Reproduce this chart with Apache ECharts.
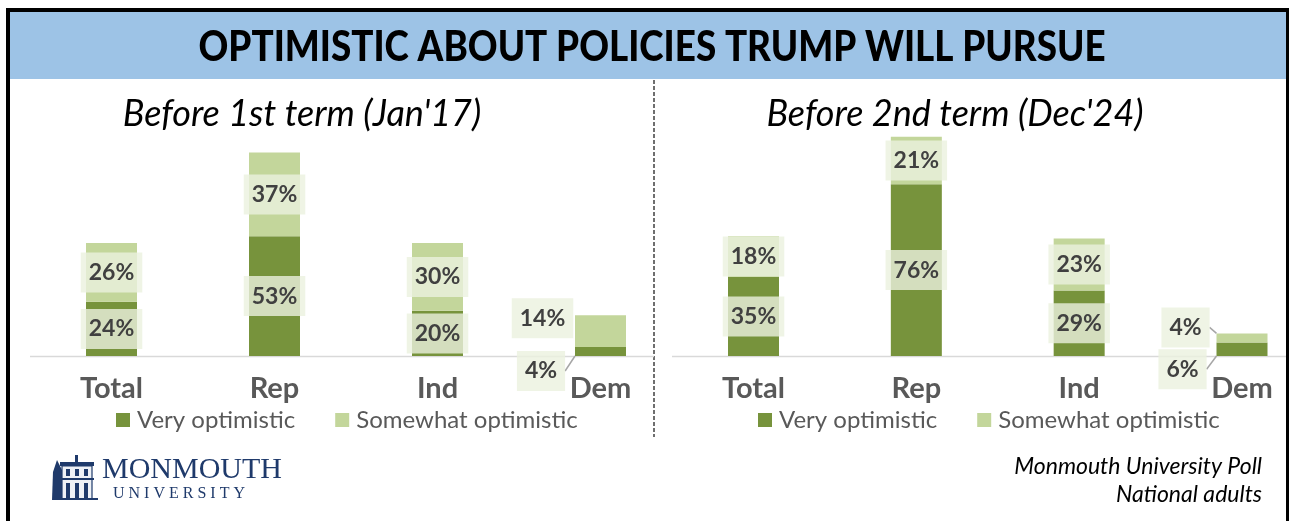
<!DOCTYPE html>
<html>
<head>
<meta charset="utf-8">
<script src="https://cdn.jsdelivr.net/npm/echarts@6/dist/echarts.min.js"></script>
<style>
html,body{margin:0;padding:0;background:#fff;}
#main{width:1289px;height:521px;}
</style>
</head>
<body>
<div id="main"></div>
<script>
// ---- data ----
const categories = ['Total', 'Rep', 'Ind', 'Dem'];
const seriesNames = ['Very optimistic', 'Somewhat optimistic'];
const veryJan17 = [24, 53, 20, 4];
const somewhatJan17 = [26, 37, 30, 14];
const veryDec24 = [35, 76, 29, 6];
const somewhatDec24 = [18, 21, 23, 4];
const subtitles = ["Before 1st term (Jan'17)", "Before 2nd term (Dec'24)"];
const titleText = 'OPTIMISTIC ABOUT POLICIES TRUMP WILL PURSUE';
const sourceLines = ['Monmouth University Poll', 'National adults'];
const logoLines = ['MONMOUTH', 'U N I V E R S I T Y'];

// ---- styles ----
const DARK = '#77933C', LIGHT = '#C3D69B';
const FONT = 'Lato';
const chart = echarts.init(document.getElementById('main'), null, {renderer: 'canvas'});

const cv = document.createElement('canvas').getContext('2d');
cv.font = '900 42px ' + FONT;
const titleScale = 907 / cv.measureText(titleText).width;

// label moves for the small "Dem" bar: [dx, dy, showLine]
const demMoves = [
  {very: [-59.5, 19.5, true], some: [-58, -13, false]},
  {very: [-59.5, 20, true], some: [-56.5, -10.5, true]}
];

function labelCfg() {
  return {
    show: true, position: 'inside', formatter: '{c}%',
    fontFamily: FONT, fontWeight: 'bold', fontSize: 23, color: '#404040',
    backgroundColor: 'rgba(235,241,222,0.8)', padding: [9, 8, 8, 8]
  };
}
function makeData(vals, move) {
  return vals.map((v, i) => {
    if (i === 3) return {value: v, labelLine: {show: move[2], lineStyle: {color: '#A6A6A6', width: 1.5}}};
    return v;
  });
}
function makeSeries(name, vals, gi, color, move, stack) {
  return {
    type: 'bar', name: name, stack: stack, xAxisIndex: gi, yAxisIndex: gi,
    barWidth: 51, clip: false, itemStyle: {color: color}, data: makeData(vals, move),
    label: labelCfg(),
    labelLine: {show: false},
    labelLayout: function (p) {
      if (p.dataIndex === 3) return {dx: move[0], dy: move[1]};
      return {};
    },
    emphasis: {disabled: true}, animation: false
  };
}

// grids span from first to last category centre (boundaryGap: false)
const grids = [
  {left: 111.5, width: 489, top: 130, height: 226},
  {left: 753.5, width: 488.5, top: 130, height: 226}
];

function xAxisCfg(gi) {
  return {
    type: 'category', gridIndex: gi, data: categories, boundaryGap: false,
    axisLine: {show: false}, axisTick: {show: false}, splitLine: {show: false},
    axisLabel: {margin: 18, interval: 0, fontFamily: FONT, fontWeight: 'bold', fontSize: 29, color: '#595959'}
  };
}
function yAxisCfg(gi) {
  return {type: 'value', gridIndex: gi, min: 0, max: 100, show: false, splitLine: {show: false}};
}
function legendCfg(left) {
  return {
    left: left, top: 408, padding: 0, itemWidth: 14, itemHeight: 14, itemGap: 40, icon: 'rect',
    data: seriesNames, selectedMode: false,
    textStyle: {fontFamily: FONT, fontSize: 24, color: '#595959', padding: [0, 0, 0, 2]}
  };
}

// logo building pieces
const navy = '#1F3A6B';
const building = [
  {type: 'polygon', shape: {points: [[57, 460], [53, 472], [52, 500], [64, 500], [63, 472]]}, style: {fill: navy}},
  {type: 'rect', shape: {x: 62, y: 466, width: 30, height: 33}, style: {fill: '#EEF1F6', stroke: navy, lineWidth: 1.2}},
  {type: 'rect', shape: {x: 60, y: 462, width: 34, height: 4}, style: {fill: navy}},
  {type: 'rect', shape: {x: 75, y: 455, width: 3, height: 7}, style: {fill: navy}},
  {type: 'rect', shape: {x: 60, y: 478, width: 34, height: 2}, style: {fill: navy}},
  {type: 'rect', shape: {x: 66, y: 469, width: 4, height: 7}, style: {fill: navy}},
  {type: 'rect', shape: {x: 75, y: 469, width: 4, height: 7}, style: {fill: navy}},
  {type: 'rect', shape: {x: 84, y: 469, width: 4, height: 7}, style: {fill: navy}},
  {type: 'rect', shape: {x: 66, y: 483, width: 4, height: 15}, style: {fill: navy}},
  {type: 'rect', shape: {x: 75, y: 483, width: 4, height: 15}, style: {fill: navy}},
  {type: 'rect', shape: {x: 84, y: 483, width: 4, height: 15}, style: {fill: navy}},
  {type: 'rect', shape: {x: 56, y: 498, width: 42, height: 2}, style: {fill: navy}}
];

const option = {
  backgroundColor: '#ffffff',
  animation: false,
  grid: grids,
  xAxis: [xAxisCfg(0), xAxisCfg(1)],
  yAxis: [yAxisCfg(0), yAxisCfg(1)],
  legend: [legendCfg(116), legendCfg(758)],
  series: [
    makeSeries(seriesNames[0], veryJan17, 0, DARK, demMoves[0].very, 'a'),
    makeSeries(seriesNames[1], somewhatJan17, 0, LIGHT, demMoves[0].some, 'a'),
    makeSeries(seriesNames[0], veryDec24, 1, DARK, demMoves[1].very, 'b'),
    makeSeries(seriesNames[1], somewhatDec24, 1, LIGHT, demMoves[1].some, 'b')
  ],
  graphic: [
    // frame & title band
    {type: 'rect', z: -10, shape: {x: 10, y: 12, width: 1277, height: 67}, style: {fill: '#9DC3E6'}},
    {type: 'rect', shape: {x: 6, y: 8, width: 1283, height: 4}, style: {fill: '#000'}},
    {type: 'rect', shape: {x: 6, y: 8, width: 4, height: 513}, style: {fill: '#000'}},
    {type: 'rect', shape: {x: 1286, y: 8, width: 3, height: 513}, style: {fill: '#000'}},
    {type: 'text', x: 652, y: 47, scaleX: titleScale,
      style: {text: titleText, x: 0, y: 0, align: 'center', verticalAlign: 'middle', textAlign: 'center', textVerticalAlign: 'middle',
        font: '900 42px ' + FONT, fill: '#000'}},
    // divider
    {type: 'line', shape: {x1: 654, y1: 80, x2: 654, y2: 437}, style: {stroke: '#404040', lineWidth: 1.5, lineDash: [4, 2]}},
    // baselines
    {type: 'line', shape: {x1: 30, y1: 356.5, x2: 654, y2: 356.5}, style: {stroke: '#D9D9D9', lineWidth: 1.5}},
    {type: 'line', shape: {x1: 672, y1: 356.5, x2: 1286, y2: 356.5}, style: {stroke: '#D9D9D9', lineWidth: 1.5}},
    // subtitles
    {type: 'text', x: 302, y: 114, style: {text: subtitles[0], align: 'center', verticalAlign: 'middle', textAlign: 'center', textVerticalAlign: 'middle',
      font: 'italic 36px ' + FONT, fill: '#000'}},
    {type: 'text', x: 955, y: 114, style: {text: subtitles[1], align: 'center', verticalAlign: 'middle', textAlign: 'center', textVerticalAlign: 'middle',
      font: 'italic 36px ' + FONT, fill: '#000'}},
    // source
    {type: 'text', x: 1262, y: 467, style: {text: sourceLines[0], align: 'right', verticalAlign: 'middle', textAlign: 'right', textVerticalAlign: 'middle',
      font: 'italic 23px ' + FONT, fill: '#000'}},
    {type: 'text', x: 1262, y: 495, style: {text: sourceLines[1], align: 'right', verticalAlign: 'middle', textAlign: 'right', textVerticalAlign: 'middle',
      font: 'italic 23px ' + FONT, fill: '#000'}},
    // logo text
    {type: 'text', x: 102, y: 470, style: {text: logoLines[0], align: 'left', verticalAlign: 'middle', textAlign: 'left', textVerticalAlign: 'middle',
      font: '30px "Liberation Serif"', fill: navy}},
    {type: 'text', x: 113, y: 494, style: {text: logoLines[1], align: 'left', verticalAlign: 'middle', textAlign: 'left', textVerticalAlign: 'middle',
      font: '16px "Liberation Serif"', fill: navy}}
  ].concat(building)
};
chart.setOption(option);
</script>
</body>
</html>
